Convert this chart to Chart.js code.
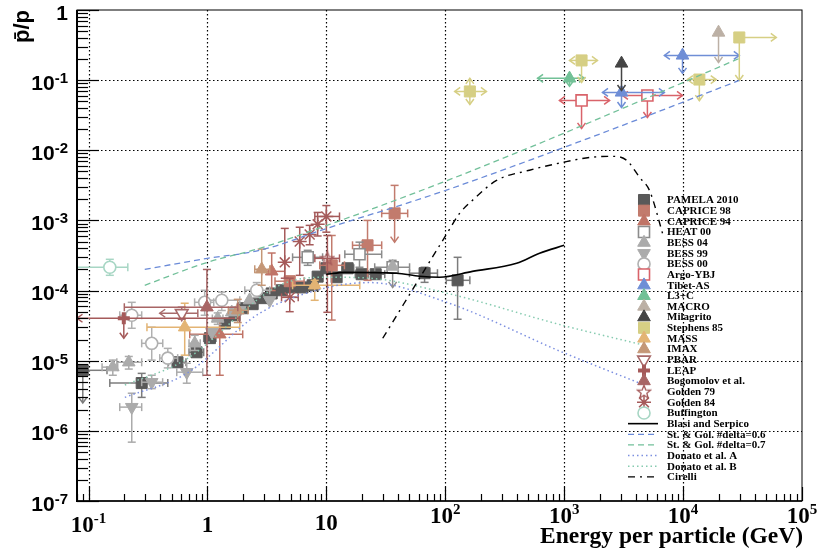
<!DOCTYPE html>
<html>
<head>
<meta charset="utf-8">
<script src="https://cdn.jsdelivr.net/npm/chart.js"></script>
<style>
  html, body { margin: 0; padding: 0; background: #fff; }
  #c { display: block; }
</style>
</head>
<body>
<canvas id="c" width="820" height="557"></canvas>
<script>
// ---------- axis ranges & tick labels ----------
const X_MIN = 0.08, X_MAX = 1e5;
const Y_MIN = 1e-7, Y_MAX = 1;
const X_TICKS = [0.1, 1, 10, 100, 1000, 10000, 100000];
const X_TICK_BASE = ['10', '1', '10', '10', '10', '10', '10'];
const X_TICK_EXP = ['-1', '', '', '2', '3', '4', '5'];
const Y_TICKS = [1e-7, 1e-6, 1e-5, 1e-4, 1e-3, 1e-2, 1e-1, 1];
const Y_TICK_BASE = ['10', '10', '10', '10', '10', '10', '10', '1'];
const Y_TICK_EXP = ['-7', '-6', '-5', '-4', '-3', '-2', '-1', ''];

// ---------- measurements ----------
// each row: [E, ratio, E low, E high, ratio low, ratio high, arrows]
// arrows: l/r on the E bar ends, d/u on the ratio bar ends
const PAMELA_2010 = [
  [0.0895, 7.3e-6, 0.08, 0.143, 2.5e-6, null, 'd'],
  [0.28, 4.8e-6, 0.151, 0.464, 3.0e-6, 6.6e-6],
  [0.56, 9.5e-6, 0.47, 0.66, 8.2e-6, 1.1e-5],
  [0.81, 1.32e-5, 0.7, 0.93, 1.15e-5, 1.5e-5],
  [1.05, 2.1e-5, 0.93, 1.18, 1.8e-5, 2.4e-5],
  [1.40, 3.4e-5],
  [1.69, 4.45e-5],
  [1.98, 5.6e-5],
  [2.40, 6.4e-5],
  [2.92, 7.8e-5],
  [3.47, 9.1e-5],
  [4.21, 1.01e-4],
  [5.2, 1.11e-4],
  [6.3, 1.11e-4],
  [7.67, 1.19e-4],
  [8.45, 1.58e-4],
  [10.0, 2.08e-4],
  [12.2, 1.55e-4],
  [15.1, 2.08e-4, 13.5, 17, 1.85e-4, 2.35e-4],
  [19.8, 1.71e-4, 17.5, 22.5, 1.5e-4, 1.95e-4],
  [26, 1.71e-4, 22, 31, 1.5e-4, 1.95e-4],
  [67, 1.77e-4, 50, 86, 1.31e-4, 2.15e-4],
  [127, 1.4e-4, 102, 161, 3.9e-5, 2.98e-4]
];
const CAPRICE_98 = [
  [4.92, 1.36e-4, 3.7, 6.5, 1.2e-4, 1.55e-4],
  [11.1, 2.29e-4, 8.8, 14.2, 3.8e-5, 6.1e-4],
  [22.2, 4.42e-4, 16.6, 29.2, 1.4e-4, 1.0e-3],
  [37.5, 1.26e-3, 29.2, 48.3, 4.9e-4, 3.16e-3, 'd']
];
const CAPRICE_94 = [
  [1.27, 2.38e-5, 0.71, 1.98, 6.2e-6, 3.8e-5],
  [3.47, 1.88e-4, 2.86, 4.47, 1.0e-4, 3.43e-4]
];
const HEAT_00 = [
  [6.97, 2.98e-4, 5.2, 9.3, 2.29e-4, 3.75e-4],
  [19.0, 3.29e-4, 14.3, 29.2, 2.15e-4, 4.9e-4],
  [36.1, 2.15e-4, 25.5, 50.1, 1.11e-4, 2.7e-4, 'd']
];
const BESS_04 = [
  [0.16, 8.1e-6, 0.13, 0.176, 6.2e-6, 1.02e-5],
  [0.218, 9.5e-6, 0.173, 0.28, 7.6e-6, 1.15e-5],
  [0.782, 1.77e-5, 0.7, 0.87, 1.4e-5, 2.3e-5],
  [1.22, 4.0e-5, 1.1, 1.35, 3.3e-5, 4.8e-5],
  [1.6, 4.9e-5],
  [2.26, 7.3e-5],
  [36.1, 2.2e-4]
];
const BESS_99 = [
  [0.231, 2.18e-6, 0.183, 0.28, 6.9e-7, 3.44e-6],
  [0.34, 4.94e-6, 0.28, 0.42, 4.0e-6, 6.2e-6],
  [0.67, 6.86e-6, 0.552, 0.913, 4.78e-6, 9.2e-6],
  [1.09, 2.55e-5],
  [1.87, 5.24e-5],
  [3.34, 7.27e-5]
];
const BESS_00 = [
  [0.231, 4.45e-5, 0.183, 0.28, 2.9e-5, 6.8e-5],
  [0.34, 1.77e-5, 0.28, 0.421, 1.02e-5, 3.0e-5],
  [0.464, 1.09e-5, 0.397, 0.562, 7.9e-6, 1.5e-5],
  [0.948, 6.8e-5, 0.78, 1.13, 4.45e-5, 1.01e-4],
  [1.32, 7.27e-5, 0.95, 1.87, 5.2e-5, 9.5e-5],
  [2.6, 1.01e-4, 2.06, 3.34, 8.0e-5, 1.3e-4]
];
const ARGO_YBJ = [
  [1400, 0.0514, 912, 2410, 0.0205, null, 'lrd'],
  [5010, 0.0605, 3090, 9890, 0.0294, null, 'lrd']
];
const TIBET_AS = [
  [3035, 0.0668, 2100, 6960, 0.0408, null, 'lrd'],
  [9890, 0.225, 6960, 29700, 0.125, null, 'lrd']
];
const L3_C = [
  [1109, 0.106, 597, 1482, 0.082, null, 'lrd']
];
const MACRO = [
  [19860, 0.478, null, null, 0.179, null, 'd']
];
const MILAGRITO = [
  [3035, 0.173, null, null, 0.0713, null, 'd']
];
const STEPHENS_85 = [
  [161, 0.069, 120, 222, 0.045, 0.106, 'lrdu'],
  [1400, 0.191, 1109, 1905, 0.093, null, 'lrd'],
  [13700, 0.102, 10870, 19000, 0.051, null, 'lrd'],
  [29700, 0.406, null, 60800, 0.099, null, 'rd']
];
const MASS = [
  [0.644, 3.0e-5, 0.31, 1.87, 1.2e-5, 6.6e-5],
  [7.98, 1.19e-4, 5.2, 19.1, 7.27e-5, 1.4e-4]
];
const IMAX = [
  [1.8, 5.24e-5, 1.5, 2.2, 3.5e-5, 7.5e-5],
  [2.86, 2.01e-4, 2.5, 3.34, 1.19e-4, 3.9e-4]
];
const PBAR = [
  [0.608, 4.75e-5, 0.397, 0.83, 3.9e-5, 5.8e-5, 'l']
];
const LEAP = [
  [0.198, 4.03e-5, 0.08, 1.87, 2.09e-5, null, 'ld']
];
const BOGOMOLOV = [
  [0.99, 5.78e-5, 0.2, 1.8, 6.2e-6, 2.0e-4]
];
const GOLDEN_79 = [
  [10.2, 2.88e-4, 8.0, 12.9, 4.9e-5, 6.1e-4]
];
const GOLDEN_84 = [
  [4.47, 2.53e-4, null, null, 1.5e-4, 7.7e-4],
  [4.92, 8.0e-5, 4.2, 5.8, 5.0e-5, 1.5e-4],
  [5.97, 5.0e-4, null, null, 1.65e-4, 8.0e-4],
  [7.24, 6.3e-4, null, null, 4.5e-4, 8.5e-4],
  [8.45, 8.8e-4, null, null, 6.0e-4, 1.3e-3],
  [10, 1.14e-3, 8.0, 12.9, 6.8e-4, 1.63e-3]
];
const BUFFINGTON = [
  [0.151, 2.15e-4, 0.08, 0.214, 1.65e-4, 2.79e-4]
];

// ---------- model curves ----------
const BLASI_E = [10, 14.3, 38.9, 60.8, 89.5, 169, 398, 621, 1000];
const BLASI_R = [1.71e-4, 1.82e-4, 1.77e-4, 1.6e-4, 1.55e-4, 1.88e-4, 2.45e-4, 3.4e-4, 4.42e-4];
const STGOL6_E = [0.297, 1.0, 2.75, 10.1, 89.8, 1427, 29700];
const STGOL6_R = [2.01e-4, 2.88e-4, 3.75e-4, 7.7e-4, 2.51e-3, 1.38e-2, 9.9e-2];
const STGOL7_E = [0.297, 1.0, 2.75, 10.1, 89.8, 711, 29700];
const STGOL7_R = [1.19e-4, 2.53e-4, 4.0e-4, 8.5e-4, 3.37e-3, 1.38e-2, 0.204];
const DONATO_A_E = [0.202, 0.67, 2.75, 10.1, 23.1, 102.5, 968, 4730];
const DONATO_A_R = [3.0e-6, 6.6e-6, 4.75e-5, 1.1e-4, 1.3e-4, 6.8e-5, 1.32e-5, 4.5e-6];
const DONATO_B_E = [0.202, 0.646, 4.06, 10.1, 23.1, 102.5, 968, 4730];
const DONATO_B_R = [4.5e-6, 1.02e-5, 1.19e-4, 1.55e-4, 1.5e-4, 9.2e-5, 3.2e-5, 1.66e-5];
const CIRELLI_E = [29.8, 101, 132, 169, 270, 511, 968, 1637, 2557, 3350, 4310, 5215, 6840];
const CIRELLI_R = [2.09e-5, 6.1e-4, 1.26e-3, 1.93e-3, 3.72e-3, 5.2e-3, 6.7e-3, 7.9e-3, 8.2e-3, 7.2e-3, 4.1e-3, 2.68e-3, 5.9e-4];

// ---------- open star marker (Golden 79) ----------
const starImg = document.createElement('canvas');
starImg.width = 16; starImg.height = 16;
(function () {
  const s = starImg.getContext('2d');
  s.strokeStyle = '#a55a5a';
  s.lineWidth = 1.3;
  s.beginPath();
  for (let k = 0; k < 10; k++) {
    const r = k % 2 ? 3 : 7;
    const a = -Math.PI / 2 + k * Math.PI / 5;
    const px = 8 + r * Math.cos(a), py = 8.5 + r * Math.sin(a);
    k ? s.lineTo(px, py) : s.moveTo(px, py);
  }
  s.closePath();
  s.stroke();
})();

// ---------- styles ----------
const experiments = [
  { label: 'PAMELA 2010', rows: PAMELA_2010, style: 'rect', r: 7.8, color: '#595959', bar: '#7c7c7c' },
  { label: 'CAPRICE 98', rows: CAPRICE_98, style: 'rect', r: 7.8, color: '#c27b6d' },
  { label: 'CAPRICE 94', rows: CAPRICE_94, style: 'triangle', r: 7.3, color: '#c07467' },
  { label: 'HEAT 00', rows: HEAT_00, style: 'rect', r: 7.8, color: '#8c8c8c', open: true },
  { label: 'BESS 04', rows: BESS_04, style: 'triangle', r: 7.3, color: '#ababab' },
  { label: 'BESS 99', rows: BESS_99, style: 'triangle', r: 7.3, color: '#ababab', rot: 180 },
  { label: 'BESS 00', rows: BESS_00, style: 'circle', r: 6, color: '#b0b0b0', open: true },
  { label: 'Argo-YBJ', rows: ARGO_YBJ, style: 'rect', r: 7.8, color: '#d9636a', open: true },
  { label: 'Tibet-AS', rows: TIBET_AS, style: 'triangle', r: 7.3, color: '#6f8ed6' },
  { label: 'L3+C', rows: L3_C, style: 'triangle', r: 7.3, color: '#72c197' },
  { label: 'MACRO', rows: MACRO, style: 'triangle', r: 7.3, color: '#bcb0a5' },
  { label: 'Milagrito', rows: MILAGRITO, style: 'triangle', r: 7.3, color: '#444444' },
  { label: 'Stephens 85', rows: STEPHENS_85, style: 'rect', r: 7.8, color: '#d6cf84' },
  { label: 'MASS', rows: MASS, style: 'triangle', r: 7.3, color: '#e3b474' },
  { label: 'IMAX', rows: IMAX, style: 'triangle', r: 7.3, color: '#c49777' },
  { label: 'PBAR', rows: PBAR, style: 'triangle', r: 7.3, color: '#a86a6a', open: true, rot: 180 },
  { label: 'LEAP', rows: LEAP, style: 'cross', r: 6, color: '#a55a5a', bw: 4 },
  { label: 'Bogomolov et al.', rows: BOGOMOLOV, style: 'triangle', r: 7.3, color: '#a86565' },
  { label: 'Golden 79', rows: GOLDEN_79, style: starImg, r: 7, color: '#a55a5a' },
  { label: 'Golden 84', rows: GOLDEN_84, style: 'star', r: 7, color: '#a55a5a', bw: 1.5 },
  { label: 'Buffington', rows: BUFFINGTON, style: 'circle', r: 6, color: '#a7d6c4', open: true }
];

const curves = [
  { label: 'Blasi and Serpico', e: BLASI_E, r: BLASI_R, color: '#000000', dash: [], w: 1.6 },
  { label: 'St. & Gol. #delta=0.6', e: STGOL6_E, r: STGOL6_R, color: '#6b8bd8', dash: [6, 4], w: 1.3 },
  { label: 'St. & Gol. #delta=0.7', e: STGOL7_E, r: STGOL7_R, color: '#72c09a', dash: [6, 4], w: 1.3 },
  { label: 'Donato et al. A', e: DONATO_A_E, r: DONATO_A_R, color: '#7c8fe0', dash: [1.5, 3], w: 1.5 },
  { label: 'Donato et al. B', e: DONATO_B_E, r: DONATO_B_R, color: '#86cbb0', dash: [1.5, 3], w: 1.5 },
  { label: 'Cirelli', e: CIRELLI_E, r: CIRELLI_R, color: '#000000', dash: [7, 5, 2, 5], w: 1.4 }
];

const datasets = [];
experiments.forEach((ex, i) => {
  datasets.push({
    label: ex.label,
    data: ex.rows.map(p => ({ x: p[0], y: p[1] })),
    rows: ex.rows,
    barColor: ex.bar || ex.color,
    showLine: false,
    pointStyle: ex.style,
    pointRadius: ex.r,
    pointHoverRadius: ex.r,
    pointRotation: ex.rot || 0,
    backgroundColor: ex.open ? '#ffffff' : ex.color,
    borderColor: ex.color,
    borderWidth: ex.bw || (ex.open ? 1.6 : 1),
    order: 100 - i
  });
});
curves.forEach((cv, j) => {
  datasets.push({
    label: cv.label,
    data: cv.e.map((v, k) => ({ x: v, y: cv.r[k] })),
    showLine: true,
    borderColor: cv.color,
    borderWidth: cv.w,
    borderDash: cv.dash,
    pointRadius: 0,
    pointHoverRadius: 0,
    cubicInterpolationMode: 'monotone',
    fill: false,
    order: 10 - j
  });
});

// ---------- drawing helpers ----------
function seg(ctx, x1, y1, x2, y2) {
  ctx.beginPath(); ctx.moveTo(x1, y1); ctx.lineTo(x2, y2); ctx.stroke();
}
function arrowHead(ctx, x, y, dir) {
  const L = 5.5, W = 4;
  ctx.beginPath();
  if (dir === 'd') { ctx.moveTo(x - W, y - L); ctx.lineTo(x, y); ctx.lineTo(x + W, y - L); }
  if (dir === 'u') { ctx.moveTo(x - W, y + L); ctx.lineTo(x, y); ctx.lineTo(x + W, y + L); }
  if (dir === 'l') { ctx.moveTo(x + L, y - W); ctx.lineTo(x, y); ctx.lineTo(x + L, y + W); }
  if (dir === 'r') { ctx.moveTo(x - L, y - W); ctx.lineTo(x, y); ctx.lineTo(x - L, y + W); }
  ctx.stroke();
}

const rootPlot = {
  id: 'rootPlot',
  beforeDatasetsDraw(chart) {
    const { ctx, chartArea: a, scales: { x, y } } = chart;
    ctx.save();
    ctx.strokeStyle = '#000';
    ctx.lineWidth = 1.2;
    ctx.setLineDash([1.5, 2.5]);
    X_TICKS.forEach(v => {
      const px = Math.round(x.getPixelForValue(v)) + 0.5;
      if (px > a.left + 3 && px < a.right - 3) seg(ctx, px, a.top, px, a.bottom);
    });
    Y_TICKS.forEach(v => {
      const py = Math.round(y.getPixelForValue(v)) + 0.5;
      if (py > a.top + 3 && py < a.bottom - 3) seg(ctx, a.left, py, a.right, py);
    });
    ctx.restore();
  },
  beforeDatasetDraw(chart, args) {
    const ds = chart.data.datasets[args.index];
    if (!ds.rows) return;
    const { ctx, chartArea: a, scales: { x, y } } = chart;
    ctx.save();
    ctx.beginPath();
    ctx.rect(a.left, a.top, a.right - a.left, a.bottom - a.top);
    ctx.clip();
    ctx.strokeStyle = ds.barColor;
    ctx.lineWidth = 1.5;
    ds.rows.forEach(row => {
      const ar = row[6] || '';
      const px = x.getPixelForValue(row[0]);
      const py = y.getPixelForValue(row[1]);
      if (row[2] != null || row[3] != null) {
        const x1 = row[2] != null ? x.getPixelForValue(row[2]) : px;
        const x2 = row[3] != null ? x.getPixelForValue(row[3]) : px;
        seg(ctx, x1, py, x2, py);
        if (row[2] != null) { ar.includes('l') ? arrowHead(ctx, x1, py, 'l') : seg(ctx, x1, py - 4, x1, py + 4); }
        if (row[3] != null) { ar.includes('r') ? arrowHead(ctx, x2, py, 'r') : seg(ctx, x2, py - 4, x2, py + 4); }
      }
      if (row[4] != null || row[5] != null) {
        const y1 = row[4] != null ? y.getPixelForValue(row[4]) : py;
        const y2 = row[5] != null ? y.getPixelForValue(row[5]) : py;
        seg(ctx, px, y1, px, y2);
        if (row[4] != null) { ar.includes('d') ? arrowHead(ctx, px, y1, 'd') : seg(ctx, px - 4, y1, px + 4, y1); }
        if (row[5] != null) { ar.includes('u') ? arrowHead(ctx, px, y2, 'u') : seg(ctx, px - 4, y2, px + 4, y2); }
      }
    });
    ctx.restore();
  },
  afterDraw(chart) {
    const { ctx, chartArea: a, scales: { x, y } } = chart;
    ctx.save();
    ctx.strokeStyle = '#000';
    ctx.setLineDash([]);

    // frame
    ctx.lineWidth = 1;
    ctx.strokeRect(a.left, a.top, a.right - a.left, a.bottom - a.top);
    ctx.lineWidth = 2;
    seg(ctx, a.left, a.top, a.left, a.bottom + 1);
    ctx.lineWidth = 1.5;
    seg(ctx, a.left, a.bottom, a.right, a.bottom);

    // log ticks
    ctx.lineWidth = 1.2;
    for (let d = -2; d <= 5; d++) {
      for (let m = 1; m <= 9; m++) {
        const v = m * Math.pow(10, d);
        if (v < X_MIN || v > X_MAX) continue;
        const px = Math.round(x.getPixelForValue(v)) + 0.5;
        seg(ctx, px, a.bottom, px, a.bottom - (m === 1 ? 14 : 7));
      }
    }
    for (let d = -7; d <= 0; d++) {
      for (let m = 1; m <= 9; m++) {
        const v = m * Math.pow(10, d);
        if (v < Y_MIN || v > Y_MAX) continue;
        const py = Math.round(y.getPixelForValue(v)) + 0.5;
        seg(ctx, a.left, py, a.left + (m === 1 ? 22 : 11), py);
      }
    }

    // y tick labels (sans bold)
    ctx.fillStyle = '#000';
    ctx.textBaseline = 'alphabetic';
    Y_TICKS.forEach((v, i) => {
      const py = y.getPixelForValue(v);
      const right = 68;
      ctx.font = 'bold 15px "Liberation Sans"';
      const we = ctx.measureText(Y_TICK_EXP[i]).width;
      ctx.textAlign = 'right';
      if (Y_TICK_EXP[i]) ctx.fillText(Y_TICK_EXP[i], right, py + 3);
      ctx.font = 'bold 21px "Liberation Sans"';
      ctx.fillText(Y_TICK_BASE[i], right - we, py + 9.5);
    });

    // x tick labels (serif bold)
    X_TICKS.forEach((v, i) => {
      const px = x.getPixelForValue(v);
      ctx.font = 'bold 23px "Liberation Serif"';
      const wb = ctx.measureText(X_TICK_BASE[i]).width;
      ctx.font = 'bold 15px "Liberation Serif"';
      const we = X_TICK_EXP[i] ? ctx.measureText(X_TICK_EXP[i]).width : 0;
      const left = px - (wb + we) / 2;
      const base = i < 2 ? 532 : (i === 2 ? 530 : 523);
      ctx.textAlign = 'left';
      ctx.font = 'bold 23px "Liberation Serif"';
      ctx.fillText(X_TICK_BASE[i], left, base);
      if (X_TICK_EXP[i]) {
        ctx.font = 'bold 15px "Liberation Serif"';
        ctx.fillText(X_TICK_EXP[i], left + wb, base - 9);
      }
    });

    // axis titles
    ctx.font = 'bold 23.5px "Liberation Serif"';
    ctx.textAlign = 'right';
    ctx.fillText('Energy per particle (GeV)', 803, 543);

    ctx.save();
    ctx.translate(29, 10);
    ctx.rotate(-Math.PI / 2);
    ctx.font = 'bold 22px "Liberation Sans"';
    ctx.textAlign = 'right';
    ctx.fillText('p\u0304/p', 0, 0);
    ctx.restore();

    // legend
    ctx.font = 'bold 11px "Liberation Serif"';
    ctx.textAlign = 'left';
    ctx.textBaseline = 'middle';
    experiments.forEach((ex, i) => {
      const ly = 200 + i * 10.65;
      ctx.fillStyle = ex.open ? '#ffffff' : ex.color;
      ctx.strokeStyle = ex.color;
      ctx.lineWidth = ex.bw || (ex.open ? 1.6 : 1);
      Chart.helpers.drawPoint(ctx, {
        pointStyle: ex.style, radius: ex.r, rotation: ex.rot || 0,
        borderWidth: ex.bw || (ex.open ? 1.6 : 1)
      }, 644, ly);
      ctx.fillStyle = '#000';
      ctx.fillText(ex.label, 667, ly + 0.5);
    });
    curves.forEach((cv, j) => {
      const ly = 200 + (experiments.length + j) * 10.65;
      ctx.strokeStyle = cv.color;
      ctx.lineWidth = cv.w;
      ctx.setLineDash(cv.dash);
      seg(ctx, 628, ly, 658, ly);
      ctx.setLineDash([]);
      ctx.fillStyle = '#000';
      ctx.fillText(cv.label, 667, ly + 0.5);
    });
    ctx.restore();
  }
};

new Chart(document.getElementById('c'), {
  type: 'scatter',
  data: { datasets: datasets },
  options: {
    responsive: false,
    animation: false,
    events: [],
    layout: { padding: { left: 0, right: 18, top: 9.5, bottom: 0 } },
    plugins: { legend: { display: false }, tooltip: { enabled: false } },
    scales: {
      x: {
        type: 'logarithmic', min: X_MIN, max: X_MAX,
        grid: { display: false }, border: { display: false },
        ticks: { display: false },
        afterFit(s) { s.height = 56; }
      },
      y: {
        type: 'logarithmic', min: Y_MIN, max: Y_MAX,
        grid: { display: false }, border: { display: false },
        ticks: { display: false },
        afterFit(s) { s.width = 77; }
      }
    }
  },
  plugins: [rootPlot]
});
</script>
</body>
</html>
